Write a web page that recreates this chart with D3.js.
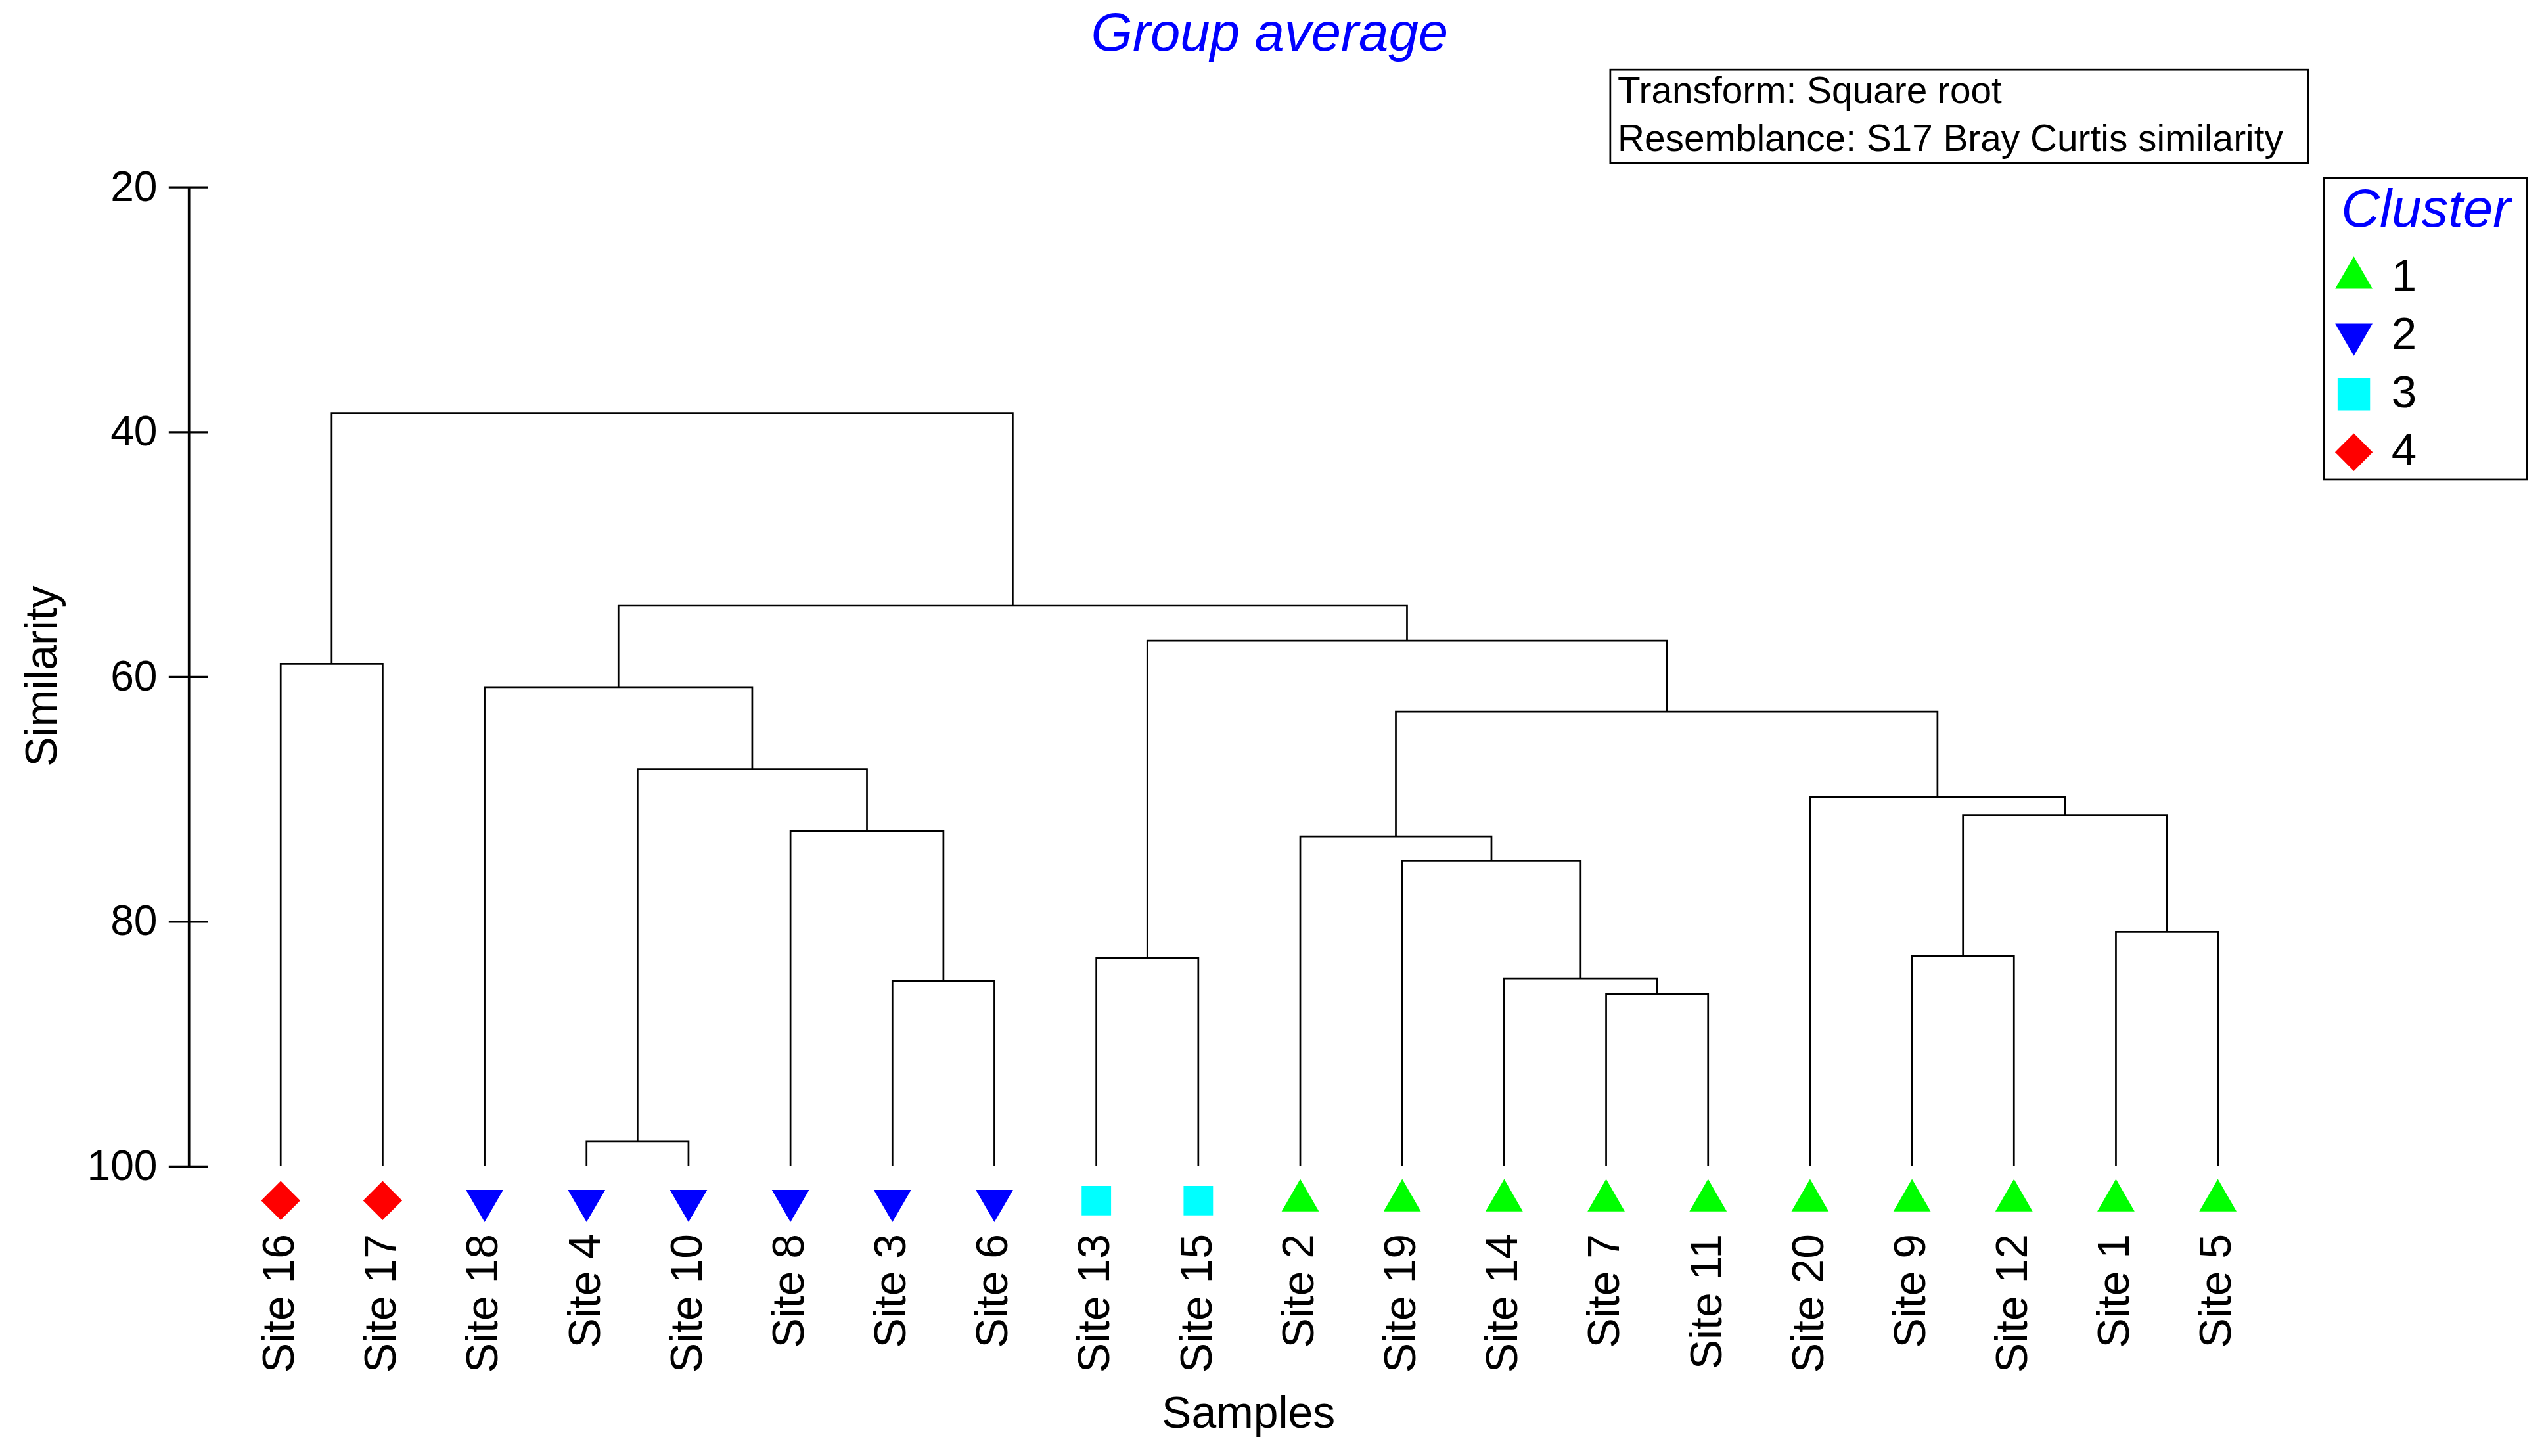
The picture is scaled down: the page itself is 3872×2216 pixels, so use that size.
<!DOCTYPE html>
<html>
<head>
<meta charset="utf-8">
<script src="https://cdn.jsdelivr.net/npm/d3@7"></script>
<style>
  body { margin: 0; background: #fff; }
  svg { display: block; }
  text { font-family: "Liberation Sans", Arial, sans-serif; }
</style>
</head>
<body>
<div id="chart"></div>
<script>
// leaves in dendrogram order, and the cluster each one belongs to
var sites = ["Site 16", "Site 17", "Site 18", "Site 4", "Site 10", "Site 8", "Site 3", "Site 6",
             "Site 13", "Site 15", "Site 2", "Site 19", "Site 14", "Site 7", "Site 11", "Site 20",
             "Site 9", "Site 12", "Site 1", "Site 5"];
var siteCluster = [4, 4, 2, 2, 2, 2, 2, 2, 3, 3, 1, 1, 1, 1, 1, 1, 1, 1, 1, 1];

// merges: [node id, left child, right child, similarity]
var merges = [
  ["A", "Site 4", "Site 10", 98.0],
  ["B", "Site 3", "Site 6", 84.9],
  ["C", "Site 8", "B", 72.65],
  ["D", "A", "C", 67.6],
  ["E", "Site 18", "D", 60.9],
  ["F", "Site 13", "Site 15", 83.0],
  ["G", "Site 16", "Site 17", 59.0],
  ["H", "Site 7", "Site 11", 86.0],
  ["I", "Site 14", "H", 84.7],
  ["J", "Site 19", "I", 75.1],
  ["K", "Site 2", "J", 73.1],
  ["L", "Site 9", "Site 12", 82.85],
  ["M", "Site 1", "Site 5", 80.9],
  ["N", "L", "M", 71.35],
  ["O", "Site 20", "N", 69.85],
  ["P", "K", "O", 62.9],
  ["Q", "F", "P", 57.1],
  ["R", "E", "Q", 54.25],
  ["S", "G", "R", 38.5]
];

var yTicks = [20, 40, 60, 80, 100];
var clusterIds = [1, 2, 3, 4];
var clusterColors = ["#00ff00", "#0000ff", "#00ffff", "#ff0000"];
var infoLines = ["Transform: Square root", "Resemblance: S17 Bray Curtis similarity"];

// drawing is done in a 1568 wide frame and scaled up to the page
var W = 1568, H = 897.4;

var svg = d3.select("#chart")
  .append("svg")
    .attr("width", 3872)
    .attr("height", 2216)
    .attr("viewBox", "0 0 " + W + " " + H);

var x = d3.scalePoint()
  .domain(sites)
  .range([173, 1367]);

var y = d3.scaleLinear()
  .domain([20, 100])
  .range([115, 718.5]);

// title
svg.append("text")
  .attr("x", 782.5)
  .attr("y", 31)
  .attr("text-anchor", "middle")
  .attr("font-size", 33)
  .attr("font-style", "italic")
  .attr("fill", "#0000ff")
  .text("Group average");

// Y axis, ticks cross the line
var yAxis = svg.append("g")
  .attr("transform", "translate(116,0)")
  .call(d3.axisLeft(y).tickValues(yTicks).tickSize(12).tickSizeOuter(0).tickPadding(7));
yAxis.select(".domain").attr("stroke", "#000").attr("stroke-width", 1.5);
yAxis.selectAll(".tick line").attr("x1", 12).attr("stroke", "#000").attr("stroke-width", 1.3);
yAxis.selectAll(".tick text")
  .attr("font-size", 26)
  .attr("font-family", "\"Liberation Sans\", Arial, sans-serif")
  .attr("fill", "#000");

svg.append("text")
  .attr("transform", "translate(35," + ((y(20) + y(100)) / 2) + ") rotate(-90)")
  .attr("text-anchor", "middle")
  .attr("font-size", 27.5)
  .text("Similarity");

// node positions
var pos = {};
sites.forEach(function(s) { pos[s] = {x: x(s), h: 100}; });
merges.forEach(function(m) {
  pos[m[0]] = {x: (pos[m[1]].x + pos[m[2]].x) / 2, h: m[3]};
});

svg.append("g")
  .selectAll("path")
  .data(merges)
  .enter()
  .append("path")
    .attr("d", function(m) {
      var l = pos[m[1]], r = pos[m[2]];
      return "M" + l.x + "," + y(l.h) + "V" + y(m[3]) + "H" + r.x + "V" + y(r.h);
    })
    .attr("fill", "none")
    .attr("stroke", "#000")
    .attr("stroke-width", 1.1);

// cluster symbols
function symbolFor(c, big) {
  if (c === 1) return {type: d3.symbolTriangle, size: 229, rot: 0};
  if (c === 2) return {type: d3.symbolTriangle, size: 229, rot: 180};
  if (c === 3) return {type: d3.symbolSquare, size: big ? 400 : 330, rot: 0};
  return {type: d3.symbolSquare, size: big ? 270 : 290, rot: 45};
}

var markerY = y(100) + 21.5;
svg.append("g")
  .selectAll("path")
  .data(sites)
  .enter()
  .append("path")
    .attr("transform", function(s, i) {
      var sym = symbolFor(siteCluster[i], false);
      return "translate(" + x(s) + "," + markerY + ") rotate(" + sym.rot + ")";
    })
    .attr("d", function(s, i) {
      var sym = symbolFor(siteCluster[i], false);
      return d3.symbol().type(sym.type).size(sym.size)();
    })
    .attr("fill", function(s, i) { return clusterColors[clusterIds.indexOf(siteCluster[i])]; });

// site labels
svg.append("g")
  .selectAll("text")
  .data(sites)
  .enter()
  .append("text")
    .attr("transform", function(s) { return "translate(" + x(s) + "," + 760.5 + ") rotate(-90)"; })
    .attr("text-anchor", "end")
    .attr("dy", 8)
    .attr("font-size", 27.5)
    .text(function(s) { return s; });

svg.append("text")
  .attr("x", (x.range()[0] + x.range()[1]) / 2 - 0.5)
  .attr("y", 880)
  .attr("text-anchor", "middle")
  .attr("font-size", 27.5)
  .text("Samples");

// info box
var info = svg.append("g");
info.append("rect")
  .attr("x", 992.5).attr("y", 43)
  .attr("width", 430).attr("height", 57.5)
  .attr("fill", "#fff").attr("stroke", "#000").attr("stroke-width", 1.1);
info.selectAll("text")
  .data(infoLines)
  .enter()
  .append("text")
    .attr("x", 997)
    .attr("y", function(d, i) { return 63.4 + i * 29.6; })
    .attr("font-size", 23)
    .text(function(d) { return d; });

// legend
var legend = svg.append("g");
legend.append("rect")
  .attr("x", 1432.5).attr("y", 109.6)
  .attr("width", 125).attr("height", 186)
  .attr("fill", "#fff").attr("stroke", "#000").attr("stroke-width", 1.1);
legend.append("text")
  .attr("x", 1443)
  .attr("y", 139.7)
  .attr("font-size", 33)
  .attr("font-style", "italic")
  .attr("fill", "#0000ff")
  .text("Cluster");

var rows = legend.selectAll("g.row")
  .data(clusterIds)
  .enter()
  .append("g")
    .attr("class", "row")
    .attr("transform", function(c, i) { return "translate(0," + (179.3 + i * 35.8) + ")"; });
rows.append("path")
  .attr("transform", function(c) {
    return "translate(1450.8," + (c === 2 ? -9 : -8) + ") rotate(" + symbolFor(c, true).rot + ")";
  })
  .attr("d", function(c) {
    var sym = symbolFor(c, true);
    return d3.symbol().type(sym.type).size(sym.size)();
  })
  .attr("fill", function(c, i) { return clusterColors[i]; });
rows.append("text")
  .attr("x", 1474)
  .attr("font-size", 28)
  .text(function(c) { return c; });
</script>
</body>
</html>
